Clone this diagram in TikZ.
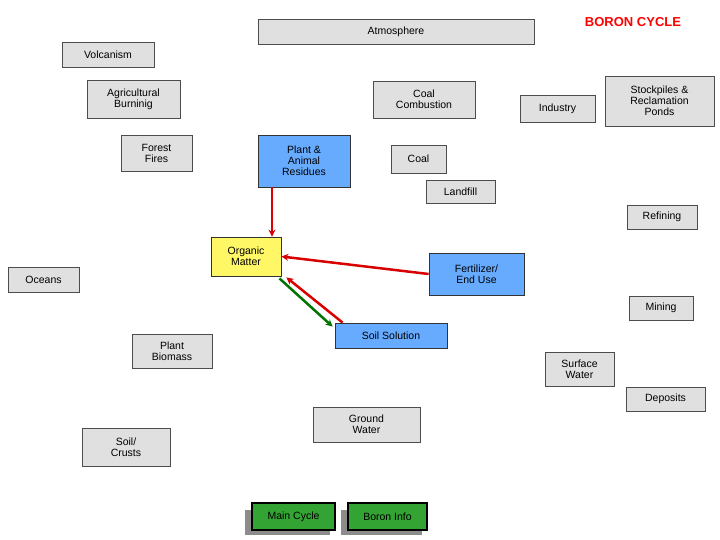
\documentclass[tikz,border=0pt]{standalone}
\usepackage{fontspec}
\setmainfont{Liberation Sans}
\usetikzlibrary{arrows.meta,calc}
\begin{document}
\begin{tikzpicture}[x=1pt,y=-1pt,
 bx/.style={draw=black!70,fill=black!12,line width=0.8pt,align=center,inner sep=0pt,font=\fontsize{10.5}{11}\selectfont},
 bl/.style={bx,fill=blue!55!cyan!60!white,draw=black!80},
 yl/.style={bx,fill=yellow!60,draw=black!80},
 gr/.style={draw=black,line width=2pt,fill=green!55!black!80,align=center,inner sep=0pt,font=\fontsize{10.5}{11}\selectfont},
 ar/.style={line width=2.5pt,-{Stealth[length=7pt,width=7pt]}}]
\useasboundingbox (0,0) rectangle (720,540);
\newcommand\bbox[7]{\node[#1,minimum width=#4-#2,minimum height=#5-#3] (#6) at ({(#2+#4)/2},{(#3+#5)/2}) {#7};}
\bbox{bx}{258}{19}{534}{44}{atm}{Atmosphere}
\node[text=red,font=\bfseries\fontsize{13}{14}\selectfont] (title) at (633,22) {BORON CYCLE};
\bbox{bx}{62}{42}{154}{67}{vol}{Volcanism}
\bbox{bx}{87}{80}{180}{118}{agr}{Agricultural\\Burninig}
\bbox{bx}{373}{81}{475}{118}{cc}{Coal\\Combustion}
\bbox{bx}{520}{95}{595}{122}{ind}{Industry}
\bbox{bx}{605}{76}{714}{126}{stk}{Stockpiles \&\\Reclamation\\Ponds}
\bbox{bx}{121}{135}{192}{171}{ff}{Forest\\Fires}
\bbox{bl}{258}{135}{350}{187}{par}{Plant \&\\Animal\\Residues}
\bbox{bx}{391}{145}{446}{173}{coal}{Coal}
\bbox{bx}{426}{180}{495}{203}{lf}{Landfill}
\bbox{bx}{627}{205}{697}{229}{ref}{Refining}
\bbox{yl}{211}{237}{281}{276}{om}{Organic\\Matter}
\bbox{bl}{429}{253}{524}{295}{fer}{Fertilizer/\\End Use}
\bbox{bx}{8}{267}{79}{292}{oce}{Oceans}
\bbox{bx}{629}{296}{693}{320}{min}{Mining}
\bbox{bl}{335}{323}{447}{348}{ss}{Soil Solution}
\bbox{bx}{132}{334}{212}{368}{pb}{Plant\\Biomass}
\bbox{bx}{545}{352}{614}{386}{sw}{Surface\\Water}
\bbox{bx}{626}{387}{705}{411}{dep}{Deposits}
\bbox{bx}{313}{407}{420}{442}{gw}{Ground\\Water}
\bbox{bx}{82}{428}{170}{466}{sc}{Soil/\\Crusts}
\fill[black!45] (245,510) rectangle (330,535);
\fill[black!45] (341,510) rectangle (422,535);
\bbox{gr}{252}{503}{335}{530}{mc}{Main Cycle}
\bbox{gr}{348}{503}{427}{530}{bi}{Boron Info}
\draw[ar,red!85!black] (par.south -| 272,0) -- (om.north -| 272,0);
\draw[ar,red!85!black] (fer.west) -- (om.east);
\draw[ar,red!85!black] ($(ss.north west)+(8,0)$) -- ($(om.south east)+(5,1)$);
\draw[ar,green!45!black] ($(om.south east)+(-2,2)$) -- ($(ss.north west)+(-2,4)$);
\end{tikzpicture}
\end{document}
